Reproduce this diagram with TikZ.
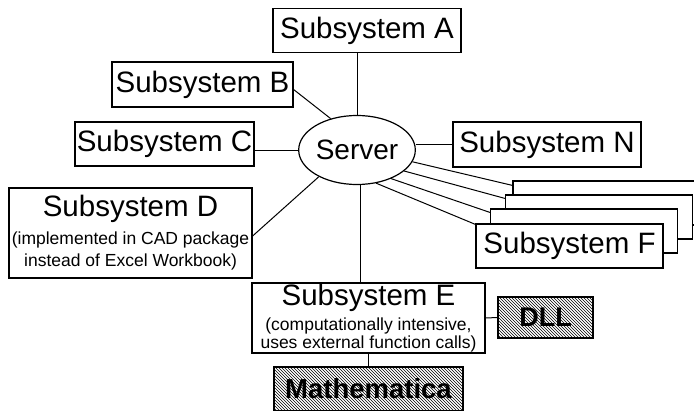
\documentclass[tikz,border=0pt]{standalone}
\usepackage{fontspec}
\setmainfont{Liberation Sans}
\usetikzlibrary{shapes.geometric,patterns}
\newcommand{\bigsize}{\fontsize{29.5}{33}\selectfont}
\newcommand{\notesize}{\fontsize{17.5}{22}\selectfont}

\begin{document}
\begin{tikzpicture}[x=1pt,y=-1pt,
  boxbase/.style={draw,line width=1.2pt,inner sep=0pt,minimum height=44pt},
  subsys/.style={boxbase,fill=white,font=\bigsize},
  extbox/.style={boxbase,pattern=north west lines,font=\bigsize\bfseries},
  link/.style={line width=1pt}]
\useasboundingbox (0,0) rectangle (694,410);
\node[ellipse,draw,line width=1.2pt,minimum width=112pt,minimum height=69pt,
  inner sep=0pt,font=\fontsize{28}{32}\selectfont] (srv) at (357,150) {Server};
\node[subsys,minimum width=188pt] (A) at (367,30.5) {Subsystem A};
\node[subsys,minimum width=181pt,minimum height=45pt] (B) at (202.5,84.5) {Subsystem B};
\node[subsys,minimum width=179pt] (C) at (164.5,144) {Subsystem C};
\node[subsys,minimum width=188pt,minimum height=45pt] (N) at (547,144.5) {Subsystem N};
\node[subsys,minimum width=243pt,minimum height=90pt,align=center,font=\notesize] (D) at (130.5,233)
  {{\bigsize Subsystem D}\\[6pt](implemented in CAD package\\instead of Excel Workbook)};
% stacked copies behind F
\node[subsys,minimum width=187pt] (F4) at (606.5,203) {};
\node[subsys,minimum width=187pt] (F3) at (599,217) {};
\node[subsys,minimum width=187pt] (F2) at (584,231) {};
\node[subsys,minimum width=187pt] (F) at (569.5,246) {Subsystem F};
\node[subsys,minimum width=233pt,minimum height=70pt,align=center,font=\notesize] (E) at (368.5,318)
  {{\bigsize Subsystem E}\\[3pt](computationally intensive,\\[-4pt]uses external function calls)};
\node[extbox,minimum width=95pt,minimum height=41pt,font=\fontsize{27}{30}\selectfont\bfseries] (dll) at (545.5,317.5) {DLL};
\node[extbox,minimum width=189pt,font=\fontsize{27.5}{30}\selectfont\bfseries] (math) at (368.5,389) {Mathematica};
% connectors
\draw[link] (srv.north) -- (srv.north |- A.south);
\draw[link] ([yshift=-5pt]B.east) -- (srv.130);
\draw[link] (srv.west) -- (srv.west -| C.east);
\draw[link] (N.west) -- (N.west -| srv.east);
\draw[link] ([yshift=-3pt]D.east) -- (srv.-145);
\draw[link] (srv.-12) -- ([yshift=-5pt]F4.north west);
\draw[link] (srv.-24) -- ([yshift=-4pt]F3.north west);
\draw[link] (srv.-40) -- ([yshift=-4pt]F2.north west);
\draw[link] (srv.-60) -- ([yshift=-1pt]F.north west);
\draw[link] (srv.-85) -- (srv.-85 |- E.north);
\draw[link] (E.east) -- (dll.west);
\draw[link] (E.south) -- (math.north);
\end{tikzpicture}
\end{document}
